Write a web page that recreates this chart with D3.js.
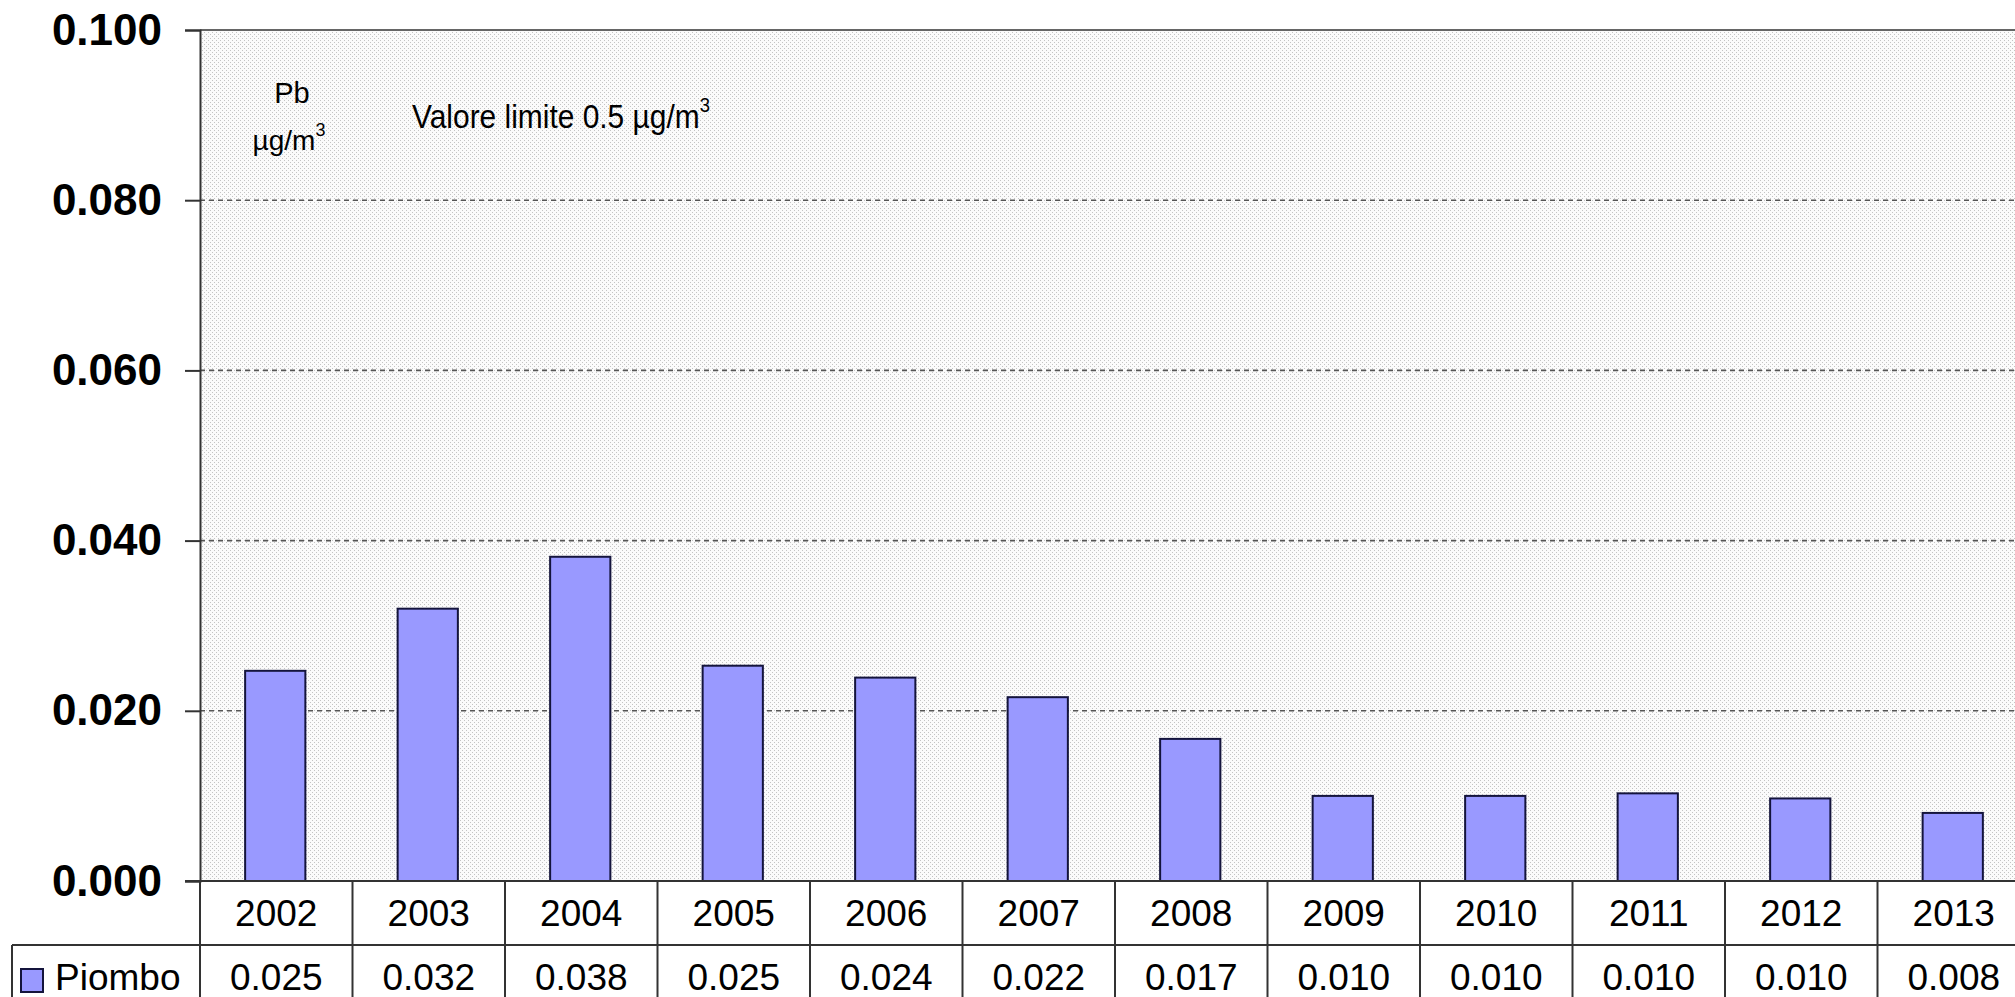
<!DOCTYPE html>
<html>
<head>
<meta charset="utf-8">
<script src="https://cdn.jsdelivr.net/npm/d3@7"></script>
<style>
  html, body { margin: 0; padding: 0; background: #ffffff; overflow: hidden; }
  svg { display: block; font-family: "Liberation Sans", Arial, sans-serif; }
</style>
</head>
<body>
<svg id="chart" width="2015" height="997"></svg>
<script>
// ---- data ----
const years = ["2002","2003","2004","2005","2006","2007","2008","2009","2010","2011","2012","2013"];
const piombo = [0.0247, 0.0320, 0.0381, 0.0253, 0.0239, 0.0216, 0.0167, 0.0100, 0.0100, 0.0103, 0.0097, 0.0080];
const piomboLabels = ["0.025","0.032","0.038","0.025","0.024","0.022","0.017","0.010","0.010","0.010","0.010","0.008"];
const yTicks = [0, 0.02, 0.04, 0.06, 0.08, 0.10];
const seriesName = "Piombo";
const unitLabel = ["Pb", "µg/m"];
const limitText = "Valore limite 0.5 µg/m";

// ---- layout ----
const svg = d3.select("#chart");
const pLeft = 200, pRight = 2030, pTop = 30, pBottom = 881;
const row1 = 945, row2 = 1009, legendLeft = 12;

const x = d3.scaleBand().domain(years).range([pLeft, pRight]).padding(0);
const y = d3.scaleLinear().domain([0, 0.1]).range([pBottom, pTop]);
const barW = x.bandwidth() * 0.395;

// pattern background
const defs = svg.append("defs");
const pat = defs.append("pattern").attr("id", "dots").attr("patternUnits", "userSpaceOnUse")
  .attr("width", 4).attr("height", 4);
pat.append("rect").attr("width", 4).attr("height", 4).attr("fill", "#fbfbfb");
pat.append("rect").attr("x", 0).attr("y", 0).attr("width", 1).attr("height", 1).attr("fill", "#c4c4c4");
pat.append("rect").attr("x", 2).attr("y", 2).attr("width", 1).attr("height", 1).attr("fill", "#c4c4c4");

svg.append("rect").attr("x", pLeft).attr("y", pTop).attr("width", pRight - pLeft).attr("height", pBottom - pTop)
  .attr("fill", "url(#dots)");

// gridlines
svg.append("g").selectAll("line").data(yTicks.filter(d => d > 0 && d < 0.1)).join("line")
  .attr("x1", pLeft).attr("x2", pRight)
  .attr("y1", d => y(d)).attr("y2", d => y(d))
  .attr("stroke", "#555").attr("stroke-width", 1.6).attr("stroke-dasharray", "5,4");
// top border
svg.append("line").attr("x1", pLeft).attr("x2", pRight).attr("y1", y(0.1)).attr("y2", y(0.1))
  .attr("stroke", "#666").attr("stroke-width", 2);

// y axis
const yAxis = d3.axisLeft(y).tickValues(yTicks).tickFormat(d3.format(".3f")).tickSize(15).tickPadding(23);
const gy = svg.append("g").attr("transform", `translate(${pLeft},0)`).call(yAxis);
gy.select(".domain").attr("stroke", "#333").attr("stroke-width", 2);
gy.selectAll(".tick line").attr("stroke", "#333").attr("stroke-width", 2);
gy.selectAll(".tick text").attr("font-size", 44).attr("font-weight", "bold").attr("fill", "#000")
  .attr("font-family", "Liberation Sans, Arial, sans-serif");

// bars
svg.append("g").selectAll("rect").data(years).join("rect")
  .attr("x", (d) => x(d) + x.bandwidth() / 2 - barW / 2 - 1)
  .attr("width", barW)
  .attr("y", (d, i) => y(piombo[i]))
  .attr("height", (d, i) => y(0) - y(piombo[i]))
  .attr("fill", "#9999ff").attr("stroke", "#14143c").attr("stroke-width", 2);

// table lines
const tbl = svg.append("g").attr("stroke", "#333").attr("stroke-width", 2);
tbl.append("line").attr("x1", pLeft - 15).attr("x2", pRight).attr("y1", pBottom).attr("y2", pBottom);
tbl.append("line").attr("x1", legendLeft).attr("x2", pRight).attr("y1", row1).attr("y2", row1);
tbl.append("line").attr("x1", legendLeft).attr("x2", legendLeft).attr("y1", row1).attr("y2", row2);
tbl.selectAll(".v").data(years.concat(["end"])).join("line")
  .attr("x1", d => d === "end" ? pRight : x(d)).attr("x2", d => d === "end" ? pRight : x(d))
  .attr("y1", pBottom).attr("y2", row2);

// table text
svg.append("g").selectAll("text").data(years).join("text")
  .attr("x", d => x(d) + x.bandwidth() / 2).attr("y", (pBottom + row1) / 2)
  .attr("dy", "0.35em").attr("text-anchor", "middle").attr("font-size", 37).attr("fill", "#000")
  .text(d => d);
svg.append("g").selectAll("text").data(years).join("text")
  .attr("x", d => x(d) + x.bandwidth() / 2).attr("y", (row1 + row2) / 2)
  .attr("dy", "0.35em").attr("text-anchor", "middle").attr("font-size", 37).attr("fill", "#000")
  .text((d, i) => piomboLabels[i]);

// legend key
svg.append("rect").attr("x", 21).attr("y", 969).attr("width", 22).attr("height", 23)
  .attr("fill", "#9999ff").attr("stroke", "#14143c").attr("stroke-width", 2);
svg.append("text").attr("x", 55).attr("y", (row1 + row2) / 2).attr("dy", "0.35em")
  .attr("font-size", 37).attr("fill", "#000").text(seriesName);

// annotations
svg.append("text").attr("x", 292).attr("y", 103).attr("text-anchor", "middle")
  .attr("font-size", 29).attr("fill", "#000").text(unitLabel[0]);
const u = svg.append("text").attr("x", 289).attr("y", 150).attr("text-anchor", "middle")
  .attr("font-size", 28).attr("fill", "#000");
u.append("tspan").text(unitLabel[1]);
u.append("tspan").attr("font-size", 18).attr("dy", -14).text("3");

const lim = svg.append("text").attr("transform", "translate(412,128) scale(0.88,1)")
  .attr("font-size", 34).attr("fill", "#000");
lim.append("tspan").text(limitText);
lim.append("tspan").attr("font-size", 21).attr("dy", -16).text("3");
</script>
</body>
</html>
